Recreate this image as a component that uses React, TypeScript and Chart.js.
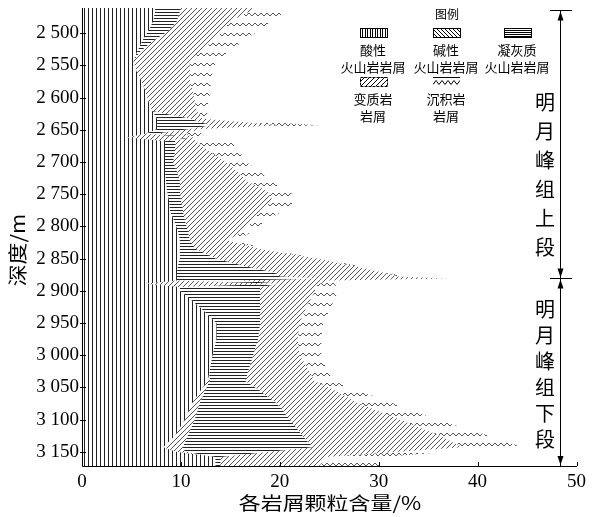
import React, { useEffect, useRef } from 'react';
import { Chart, registerables } from 'chart.js';

Chart.register(...registerables);

// Depth samples (m)
const depths = [
  2461, 2466, 2481, 2497, 2512, 2528, 2543, 2559, 2574, 2590,
  2605, 2621, 2633, 2643, 2649, 2656, 2662, 2668, 2685, 2700,
  2715, 2730, 2745, 2760, 2776, 2791, 2807, 2822, 2835, 2850,
  2862, 2872, 2878, 2881, 2884, 2889, 2894, 2900, 2925, 2950,
  2975, 3000, 3025, 3040, 3050, 3075, 3100, 3125, 3143, 3150,
  3158, 3172,
];

// Content of each cutting type (%)
const acidic = [
  7.4, 7.4, 7.2, 6.7, 6.1, 5.6, 5.2, 5.5, 6.0, 6.4,
  6.7, 7.1, 7.6, 7.6, 7.6, 6.5, 4.5, 8.4, 8.4, 8.4,
  8.4, 8.5, 8.6, 8.8, 8.9, 9.3, 9.7, 9.9, 9.9, 9.9,
  9.7, 9.6, 9.6, 9.6, 9.6, 6.4, 9.9, 9.9, 11.9, 13.6,
  13.6, 13.2, 12.9, 12.7, 12.2, 11.1, 10.4, 9.4, 8.2, 9.5,
  13.5, 13.5,
];
const basic = [
  0, 0, 0, 0, 0, 0, 0, 0, 0, 0,
  0, 0, 0, 0, 0, 0, 6.3, 0, 0, 0,
  0, 0, 0, 0, 0, 0, 0, 0, 0, 0,
  0, 0, 0, 0, 0, 13.6, 0, 0, 0, 0,
  0, 0, 0, 0.2, 0.4, 0.8, 1.0, 1.3, 2.0, 1.0,
  0, 0,
];
const tuff = [
  2.5, 2.5, 2.4, 2.0, 1.1, 0.3, 0, 0, 0, 0,
  0, 0, 3.3, 5.4, 3.3, 1.0, 0, 1.0, 1.0, 0.8,
  1.2, 1.4, 1.3, 1.2, 1.3, 1.1, 1.0, 1.0, 1.6, 3.6,
  6.8, 9.9, 10.4, 14.4, 6.4, 0, 8.1, 8.1, 6.1, 4.4,
  4.2, 4.1, 3.9, 3.6, 4.9, 7.8, 9.6, 11.6, 13.1, 8.5,
  0.5, 0.5,
];
const metamorphic = [
  7.3, 7.1, 5.4, 5.5, 6.1, 6.0, 5.7, 5.4, 4.9, 4.8,
  4.7, 4.5, 1.3, 7.0, 1.1, 3.0, 0.4, 2.1, 3.6, 5.4,
  6.1, 6.8, 8.8, 9.3, 7.8, 6.9, 5.6, 3.8, 6.5, 10.2,
  11.1, 11.0, 12.0, 13.0, 9.0, 4.0, 5.5, 5.6, 4.7, 4.0,
  4.0, 4.7, 6.2, 7.0, 7.5, 8.3, 11.1, 13.9, 15.2, 13.0,
  10.7, 10.0,
];
const sedimentary = [
  3.8, 3.7, 4.3, 3.6, 3.0, 3.1, 2.7, 2.3, 2.2, 1.7,
  1.5, 0.9, 0.8, 4.0, 0.8, 1.5, 1.3, 3.5, 3.0, 2.0,
  2.3, 2.3, 2.3, 2.4, 2.3, 1.4, 1.0, 1.0, 0.4, 0.4,
  0.5, 0.5, 0.5, 0.5, 2.0, 1.5, 2.3, 2.3, 2.5, 2.4,
  2.4, 2.2, 1.8, 2.0, 2.0, 3.5, 3.7, 5.0, 6.0, 5.0,
  5.7, 6.0,
];

const xTicks = [0, 10, 20, 30, 40, 50];
const yTicks = [2500, 2550, 2600, 2650, 2700, 2750, 2800, 2850, 2900, 2950, 3000, 3050, 3100, 3150];
const xTitle = '各岩屑颗粒含量/%';
const yTitle = '深度/m';
const legendTitle = '图例';
const legendLabels = [
  ['酸性', '火山岩岩屑'],
  ['碱性', '火山岩岩屑'],
  ['凝灰质', '火山岩岩屑'],
  ['变质岩', '岩屑'],
  ['沉积岩', '岩屑'],
];
const upperUnit = '明月峰组上段';
const lowerUnit = '明月峰组下段';
const unitDepths = [2464, 2880, 3172];

const CJK = '"Noto Sans CJK SC", sans-serif';
const SERIF = '"Liberation Serif", "DejaVu Serif", serif';

function makePattern(w: number, h: number, draw: (g: CanvasRenderingContext2D) => void) {
  const c = document.createElement('canvas');
  c.width = w;
  c.height = h;
  const g = c.getContext('2d')!;
  draw(g);
  return g.createPattern(c, 'repeat')!;
}

function vertPat() {
  return makePattern(4, 4, (g) => {
    g.fillStyle = '#222';
    g.fillRect(0, 0, 1, 4);
  });
}
function horizPat() {
  return makePattern(4, 3, (g) => {
    g.fillStyle = '#222';
    g.fillRect(0, 0, 4, 1);
  });
}
function diagPat() {
  return makePattern(5, 5, (g) => {
    g.strokeStyle = '#444';
    g.lineWidth = 0.9;
    g.beginPath();
    g.moveTo(-1, 6);
    g.lineTo(6, -1);
    g.moveTo(-1, 1);
    g.lineTo(1, -1);
    g.moveTo(4, 6);
    g.lineTo(6, 4);
    g.stroke();
  });
}
function wavePat() {
  return makePattern(12, 10, (g) => {
    g.strokeStyle = '#555';
    g.lineWidth = 1;
    g.beginPath();
    g.moveTo(0, 6);
    g.lineTo(3, 3);
    g.lineTo(6, 6);
    g.lineTo(9, 3);
    g.lineTo(12, 6);
    g.stroke();
  });
}

function fmtDepth(v: number) {
  const th = Math.floor(v / 1000);
  const rest = String(v % 1000).padStart(3, '0');
  return `${th} ${rest}`;
}

function drawSwatch(ctx: CanvasRenderingContext2D, kind: number, x: number, y: number, w: number, h: number) {
  ctx.save();
  ctx.beginPath();
  ctx.rect(x, y, w, h);
  ctx.clip();
  ctx.strokeStyle = '#000';
  ctx.lineWidth = 1;
  ctx.beginPath();
  if (kind === 0) {
    for (let i = x + 2; i < x + w; i += 2.5) {
      ctx.moveTo(Math.round(i) + 0.5, y);
      ctx.lineTo(Math.round(i) + 0.5, y + h);
    }
  } else if (kind === 1) {
    for (let i = x - h; i < x + w + h; i += 4) {
      ctx.moveTo(i, y);
      ctx.lineTo(i + h, y + h);
    }
  } else if (kind === 2) {
    for (let j = y + 2; j < y + h; j += 2) {
      ctx.moveTo(x, j + 0.5);
      ctx.lineTo(x + w, j + 0.5);
    }
  } else if (kind === 3) {
    for (let i = x - h; i < x + w + h; i += 5) {
      ctx.moveTo(i, y + h);
      ctx.lineTo(i + h, y);
    }
  } else {
    const mid = y + h / 2 + 1;
    ctx.moveTo(x, mid + 2);
    for (let i = x; i < x + w; i += 6) {
      ctx.lineTo(i + 3, mid - 2);
      ctx.lineTo(i + 6, mid + 2);
    }
  }
  ctx.stroke();
  ctx.restore();
  ctx.strokeStyle = '#000';
  ctx.lineWidth = 1;
  if (kind === 4) {
    ctx.beginPath();
    ctx.moveTo(x, y + 0.5);
    ctx.lineTo(x + w, y + 0.5);
    ctx.stroke();
  } else if (kind === 3) {
    ctx.setLineDash([3, 1]);
    ctx.strokeRect(x + 0.5, y + 0.5, w, h);
    ctx.setLineDash([]);
  } else {
    ctx.strokeRect(x + 0.5, y + 0.5, w, h);
  }
}

function arrow(ctx: CanvasRenderingContext2D, x: number, tipY: number, dir: number) {
  ctx.beginPath();
  ctx.moveTo(x, tipY);
  ctx.lineTo(x - 3, tipY - dir * 9);
  ctx.lineTo(x + 3, tipY - dir * 9);
  ctx.closePath();
  ctx.fill();
}

function stretchedText(ctx: CanvasRenderingContext2D, text: string, x: number, y: number, sx: number) {
  ctx.save();
  ctx.translate(x, y);
  ctx.scale(sx, 1);
  ctx.fillText(text, 0, 0);
  ctx.restore();
}

const overlayPlugin = {
  id: 'overlay',
  afterDraw(chart: any) {
    const ctx: CanvasRenderingContext2D = chart.ctx;
    const { left, right, top, bottom } = chart.chartArea;
    const xs = chart.scales.x;
    const ys = chart.scales.y;
    ctx.save();
    // axes
    ctx.strokeStyle = '#000';
    ctx.lineWidth = 1;
    ctx.beginPath();
    ctx.moveTo(left + 0.5, top);
    ctx.lineTo(left + 0.5, bottom + 0.5);
    ctx.lineTo(right + 0.5, bottom + 0.5);
    for (const v of yTicks) {
      const y = Math.round(ys.getPixelForValue(v)) + 0.5;
      ctx.moveTo(left - 2, y);
      ctx.lineTo(left + 4, y);
    }
    for (const v of xTicks) {
      const x = Math.round(xs.getPixelForValue(v)) + 0.5;
      ctx.moveTo(x, bottom);
      ctx.lineTo(x, bottom - 4);
    }
    ctx.stroke();

    // axis titles
    ctx.fillStyle = '#000';
    ctx.textAlign = 'center';
    ctx.textBaseline = 'middle';
    ctx.font = `18px ${CJK}`;
    stretchedText(ctx, xTitle, 330, 503, 1.22);
    ctx.save();
    ctx.translate(18, 250);
    ctx.rotate(-Math.PI / 2);
    ctx.font = `19px ${CJK}`;
    stretchedText(ctx, yTitle, 0, 0, 1.15);
    ctx.restore();

    // legend
    ctx.font = `12px ${CJK}`;
    ctx.fillText(legendTitle, 447, 14);
    const cols = [373, 446, 517];
    const swX = [360, 433, 504];
    ctx.font = `13px ${CJK}`;
    legendLabels.forEach((lab, i) => {
      const row = i < 3 ? 0 : 1;
      const col = i < 3 ? i : i - 3;
      const sy = row === 0 ? 28 : 77;
      drawSwatch(ctx, i, swX[col], sy, 27, 9);
      ctx.fillStyle = '#000';
      const ty = row === 0 ? 50 : 99;
      ctx.fillText(lab[0], cols[col], ty);
      ctx.fillText(lab[1], cols[col], ty + 17);
    });

    // stratigraphic unit annotation
    const lx = 560.5;
    const yTop = Math.round(ys.getPixelForValue(unitDepths[0])) + 0.5;
    const yMid = Math.round(ys.getPixelForValue(unitDepths[1])) + 0.5;
    const yBot = Math.round(ys.getPixelForValue(unitDepths[2]));
    ctx.beginPath();
    ctx.moveTo(lx, yTop);
    ctx.lineTo(lx, yBot);
    ctx.moveTo(550, yTop);
    ctx.lineTo(572, yTop);
    ctx.moveTo(550, yMid);
    ctx.lineTo(572, yMid);
    ctx.stroke();
    arrow(ctx, lx, yTop + 1, -1);
    arrow(ctx, lx, yMid - 1, 1);
    arrow(ctx, lx, yMid + 1, -1);
    arrow(ctx, lx, yBot - 1, 1);

    ctx.font = `20px ${CJK}`;
    const upY = [102, 131, 160, 189, 218, 247];
    const loY = [309, 335, 361, 387, 413, 439];
    Array.from(upperUnit).forEach((ch, i) => ctx.fillText(ch, 545, upY[i]));
    Array.from(lowerUnit).forEach((ch, i) => ctx.fillText(ch, 545, loY[i]));
    ctx.restore();
  },
};

export default function App() {
  const ref = useRef<HTMLCanvasElement | null>(null);
  useEffect(() => {
    const canvas = ref.current!;
    const patterns = [vertPat(), diagPat(), horizPat(), diagPat(), wavePat()];
    const series = [acidic, basic, tuff, metamorphic, sedimentary];
    const names = ['酸性火山岩岩屑', '碱性火山岩岩屑', '凝灰质火山岩岩屑', '变质岩岩屑', '沉积岩岩屑'];
    const cum = depths.map(() => 0);
    const datasets = series.map((s, k) => {
      const pts = depths.map((d, i) => {
        cum[i] += s[i];
        return { x: Math.round(cum[i] * 100) / 100, y: d };
      });
      return {
        label: names[k],
        data: pts,
        backgroundColor: patterns[k],
        borderColor: 'rgba(0,0,0,0)',
        borderWidth: 0,
        pointRadius: 0,
        tension: 0,
        fill: k === 0 ? 'origin' : '-1',
      };
    });
    const chart = new Chart(canvas, {
      type: 'line',
      data: { datasets },
      options: {
        animation: false,
        responsive: false,
        indexAxis: 'y',
        layout: { padding: { top: 8, right: 15.5, left: 0, bottom: 0 } },
        plugins: { legend: { display: false }, tooltip: { enabled: false } },
        scales: {
          x: {
            type: 'linear',
            min: 0,
            max: 50,
            grid: { display: false, drawTicks: false },
            border: { display: false },
            ticks: { stepSize: 10, padding: 5, color: '#000', font: { family: SERIF, size: 19 } },
            afterFit: (s: any) => {
              s.height = 51;
              s.paddingLeft = 0;
              s.paddingRight = 0;
            },
          },
          y: {
            type: 'linear',
            min: 2461,
            max: 3172,
            reverse: true,
            grid: { display: false, drawTicks: false },
            border: { display: false },
            afterBuildTicks: (s: any) => {
              s.ticks = yTicks.map((v) => ({ value: v }));
            },
            ticks: {
              padding: 3,
              color: '#000',
              font: { family: SERIF, size: 19 },
              callback: (v: any) => fmtDepth(Number(v)),
            },
            afterFit: (s: any) => {
              s.width = 82;
              s.paddingTop = 0;
              s.paddingBottom = 0;
            },
          },
        },
      },
      plugins: [overlayPlugin],
    });
    return () => chart.destroy();
  }, []);
  return (
    <div style={{ position: 'absolute', left: 0, top: 0, width: 592, height: 517, background: '#fff' }}>
      <canvas ref={ref} width={592} height={517} />
    </div>
  );
}
